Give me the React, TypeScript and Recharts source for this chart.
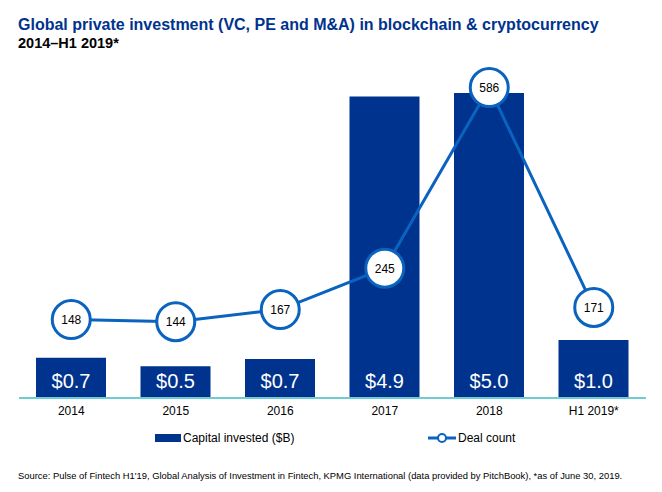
import React from "react";
import { ComposedChart, Bar, Line, XAxis, YAxis, LabelList } from "recharts";

const categories = ["2014", "2015", "2016", "2017", "2018", "H1 2019*"];
const capitalInvested = [0.66, 0.52, 0.64, 4.94, 5.0, 0.95];
const capitalLabels = ["$0.7", "$0.5", "$0.7", "$4.9", "$5.0", "$1.0"];
const dealCount = [148, 144, 167, 245, 586, 171];

const data = categories.map((c, i) => ({
  name: c,
  capital: capitalInvested[i],
  capLabel: capitalLabels[i],
  deals: dealCount[i],
}));

const NAVY = "#00338d";
const LINE = "#0a63bf";
const TEAL = "#6dcdd2";
const FONT = "'Liberation Sans', Arial, sans-serif";

const DealDot = (props: any) => {
  const { cx, cy, value } = props;
  if (cx == null || cy == null) return null;
  return (
    <g>
      <circle cx={cx} cy={cy} r={19} fill="#fff" stroke={LINE} strokeWidth={3} />
      <text x={cx} y={cy} dy="0.36em" textAnchor="middle" fontSize={12} fill="#000" fontFamily={FONT}>
        {value}
      </text>
    </g>
  );
};

const BarLabel = (props: any) => {
  const { x, y, width, height, value } = props;
  return (
    <text
      x={x + width / 2}
      y={y + height - 17}
      dy="0.36em"
      textAnchor="middle"
      fontSize={20}
      fill="#fff"
      fontFamily={FONT}
    >
      {value}
    </text>
  );
};

export default function App() {
  return (
    <div style={{ position: "absolute", left: 0, top: 0, width: 662, height: 492, background: "#fff", fontFamily: FONT }}>
      <div style={{ position: "absolute", left: 18, top: 16, fontSize: 16, fontWeight: "bold", color: NAVY, whiteSpace: "nowrap" }}>
        Global private investment (VC, PE and M&amp;A) in blockchain &amp; cryptocurrency
      </div>
      <div style={{ position: "absolute", left: 18, top: 35, fontSize: 14.5, fontWeight: "bold", color: "#000", whiteSpace: "nowrap" }}>
        2014–H1 2019*
      </div>
      <ComposedChart
        width={662}
        height={492}
        data={data}
        margin={{ top: 60, right: 16, left: 19, bottom: 64 }}
        style={{ position: "absolute", left: 0, top: 0 }}
      >
        <XAxis
          dataKey="name"
          axisLine={{ stroke: TEAL, strokeWidth: 2 }}
          tickLine={false}
          height={30}
          tick={{ fontSize: 12, fill: "#000", fontFamily: FONT }}
          interval={0}
        />
        <YAxis yAxisId="bar" hide domain={[0, 5.54]} />
        <YAxis yAxisId="line" hide domain={[0, 638]} orientation="right" />
        <Bar yAxisId="bar" dataKey="capital" fill={NAVY} barSize={70} isAnimationActive={false}>
          <LabelList dataKey="capLabel" content={BarLabel} />
        </Bar>
        <Line
          yAxisId="line"
          dataKey="deals"
          stroke={LINE}
          strokeWidth={3}
          dot={DealDot}
          activeDot={false}
          isAnimationActive={false}
        />
      </ComposedChart>
      <div style={{ position: "absolute", left: 155, top: 434, width: 26, height: 8, background: NAVY }} />
      <div style={{ position: "absolute", left: 183, top: 431, fontSize: 12, color: "#000", whiteSpace: "nowrap" }}>
        Capital invested ($B)
      </div>
      <svg style={{ position: "absolute", left: 427, top: 430 }} width={30} height={16}>
        <line x1={1} y1={8} x2={29} y2={8} stroke={LINE} strokeWidth={3} />
        <circle cx={15} cy={8} r={4} fill="#fff" stroke={LINE} strokeWidth={2} />
      </svg>
      <div style={{ position: "absolute", left: 458, top: 431, fontSize: 12, color: "#000", whiteSpace: "nowrap" }}>
        Deal count
      </div>
      <div style={{ position: "absolute", left: 18, top: 470, fontSize: 9.4, color: "#000", whiteSpace: "nowrap" }}>
        Source: Pulse of Fintech H1'19, Global Analysis of Investment in Fintech, KPMG International (data provided by PitchBook), *as of June 30, 2019.
      </div>
    </div>
  );
}
